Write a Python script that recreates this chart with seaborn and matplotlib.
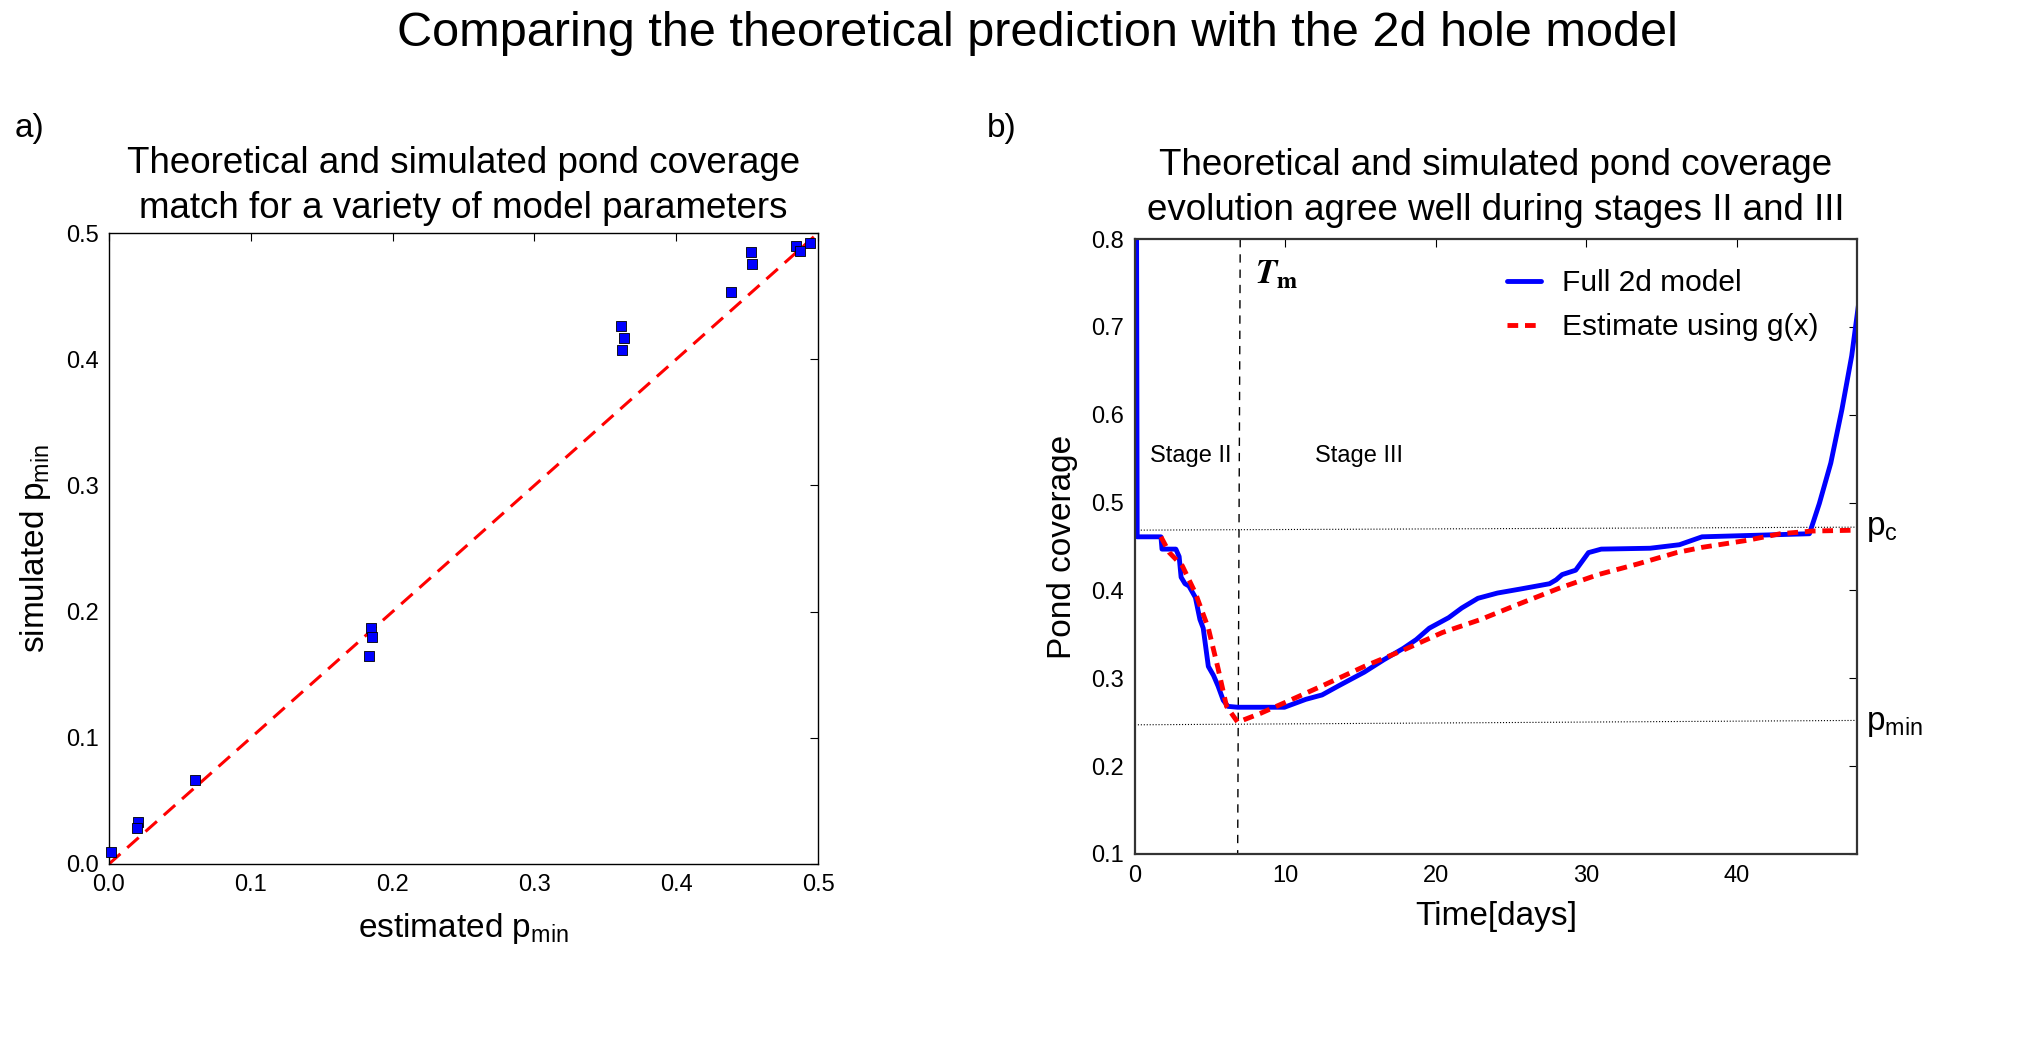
import numpy as np
import pandas as pd
import seaborn as sns
import matplotlib.pyplot as plt

# panel a) estimated vs simulated p_min
est_pmin = [0.0015, 0.0207, 0.0200, 0.0610, 0.1848, 0.1856, 0.1833, 0.3608, 0.3631, 0.3616,
            0.4387, 0.4528, 0.4536, 0.4847, 0.4873, 0.4946]
sim_pmin = [0.0092, 0.0329, 0.0287, 0.0669, 0.1870, 0.1800, 0.1650, 0.4264, 0.4168, 0.4073,
            0.4533, 0.4848, 0.4752, 0.4897, 0.4858, 0.4922]
ident_x = [0.0, 0.497]
ident_y = [0.0, 0.497]

# panel b) full 2d model
t_model = [0.10, 0.15, 1.73, 1.80, 2.72, 2.94, 3.07, 3.33, 3.59, 4.02, 4.32, 4.54, 4.88, 5.23,
           5.53, 5.87, 6.18, 6.83, 9.94, 11.36, 12.44, 13.5, 15.25, 16.54, 17.84, 18.7, 19.57,
           20.86, 21.73, 22.8, 24.1, 25.6, 27.56, 28.0, 28.4, 29.3, 30.15, 31.0, 34.25, 36.2,
           37.7, 44.84, 45.5, 46.26, 47.0, 47.65, 48.1]
p_model = [0.90, 0.461, 0.461, 0.447, 0.447, 0.4385, 0.415, 0.4076, 0.405, 0.392, 0.367, 0.357,
           0.3135, 0.303, 0.291, 0.275, 0.268, 0.267, 0.267, 0.276, 0.281, 0.291, 0.307, 0.321,
           0.334, 0.344, 0.357, 0.369, 0.380, 0.391, 0.397, 0.4015, 0.4076, 0.412, 0.418, 0.423,
           0.443, 0.447, 0.448, 0.452, 0.461, 0.4645, 0.499, 0.545, 0.606, 0.667, 0.725]

# estimate using g(x)
t_est = [1.73, 2.29, 3.15, 4.02, 4.88, 5.53, 6.09, 6.83, 8.34, 10.06, 12.66, 15.25, 17.84,
         20.43, 23.0, 25.6, 28.2, 30.8, 33.4, 36.0, 37.7, 40.7, 42.9, 45.05, 48.1]
p_est = [0.461, 0.443, 0.428, 0.397, 0.357, 0.311, 0.268, 0.250, 0.260, 0.273, 0.293, 0.3135,
         0.332, 0.352, 0.367, 0.385, 0.4025, 0.418, 0.430, 0.443, 0.449, 0.457, 0.4645, 0.4676,
         0.4686]

# reference lines
pc_x = [0.0, 48.0]
pc_y = [0.4686, 0.4720]
pmin_x = [0.0, 48.0]
pmin_y = [0.247, 0.252]
tm_x = [7.0, 6.83]
tm_y = [0.8, 0.1]

sns.set_style('white')
plt.rcParams['font.family'] = ['Liberation Sans', 'DejaVu Sans']
plt.rcParams['mathtext.default'] = 'regular'
for key in ['text.color', 'axes.labelcolor', 'xtick.color', 'ytick.color']:
    plt.rcParams[key] = 'black'

fig = plt.figure(figsize=(20.18, 10.46), dpi=100)
ax1 = fig.add_axes([0.0540, 0.1740, 0.3514, 0.6032])
ax2 = fig.add_axes([0.5624, 0.1836, 0.3578, 0.5879])

fig.text(0.514, 0.968, 'Comparing the theoretical prediction with the 2d hole model',
         ha='center', va='center', fontsize=35)
fig.text(0.007, 0.877, 'a)', ha='left', va='center', fontsize=24)
fig.text(0.489, 0.877, 'b)', ha='left', va='center', fontsize=24)

# --- panel a
df_a = pd.DataFrame({'est': est_pmin, 'sim': sim_pmin})
sns.lineplot(x=ident_x, y=ident_y, ax=ax1, color='red', lw=2.2, dashes=False)
ax1.lines[-1].set_dashes([5, 3])
sns.scatterplot(data=df_a, x='est', y='sim', ax=ax1, marker='s', s=55, color='#0000ff',
                edgecolor='black', linewidth=0.6, zorder=3, clip_on=False)
ax1.set_xlim(0, 0.5)
ax1.set_ylim(0, 0.5)
ax1.set_xticks(np.arange(0, 0.51, 0.1))
ax1.set_yticks(np.arange(0, 0.51, 0.1))
ax1.set_xticklabels(['0.0', '0.1', '0.2', '0.3', '0.4', '0.5'])
ax1.set_yticklabels(['0.0', '0.1', '0.2', '0.3', '0.4', '0.5'])
ax1.tick_params(direction='in', top=True, right=True, length=6, width=0.8, labelsize=17, pad=7)
ax1.set_xlabel('estimated p$_{min}$', fontsize=24, labelpad=11)
ax1.set_ylabel('simulated p$_{min}$', fontsize=24, labelpad=10)
ax1.set_title('Theoretical and simulated pond coverage\nmatch for a variety of model parameters',
              fontsize=26.5, pad=11, linespacing=1.35)
for sp in ax1.spines.values():
    sp.set_color('black')
    sp.set_linewidth(1.0)

# --- panel b
ax2.plot(pc_x, pc_y, color='black', lw=0.8, ls=':')
ax2.plot(pmin_x, pmin_y, color='black', lw=0.8, ls=':')
ax2.plot(tm_x, tm_y, color='black', lw=1.0, dashes=[6, 5])
sns.lineplot(x=t_model, y=p_model, ax=ax2, color='#0000ff', lw=3.5, sort=False,
             estimator=None, label='Full 2d model')
sns.lineplot(x=t_est, y=p_est, ax=ax2, color='red', lw=3.5, sort=False,
             estimator=None, label='Estimate using g(x)')
ax2.lines[-1].set_dashes([2.2, 1.4])
ax2.set_xlim(0, 48)
ax2.set_ylim(0.1, 0.8)
ax2.set_xticks([0, 10, 20, 30, 40])
ax2.set_yticks(np.arange(0.1, 0.81, 0.1))
ax2.set_yticklabels(['0.1', '0.2', '0.3', '0.4', '0.5', '0.6', '0.7', '0.8'])
ax2.tick_params(direction='in', top=True, right=True, length=6, width=0.8, labelsize=17, pad=8)
ax2.set_xlabel('Time[days]', fontsize=24, labelpad=10)
ax2.set_ylabel('Pond coverage', fontsize=24, labelpad=9)
ax2.set_title('Theoretical and simulated pond coverage\nevolution agree well during stages II and III',
              fontsize=26.5, pad=14, linespacing=1.35)
for sp in ax2.spines.values():
    sp.set_color('#333333')
    sp.set_linewidth(1.6)

ax2.text(3.7, 0.553, 'Stage II', ha='center', va='center', fontsize=17)
ax2.text(14.9, 0.553, 'Stage III', ha='center', va='center', fontsize=17)
ax2.text(8.0, 0.760, r'$\mathbfit{T}_\mathbf{m}$', ha='left', va='center', fontsize=25,
         math_fontfamily='stix')
ax2.text(48.6, 0.471, r'p$_c$', ha='left', va='center', fontsize=24)
ax2.text(48.6, 0.248, r'p$_{min}$', ha='left', va='center', fontsize=24)

leg = ax2.legend(loc='upper left', bbox_to_anchor=(0.478, 0.995), frameon=False, fontsize=21.5,
                 handlelength=1.15, handletextpad=0.7, labelspacing=0.55)

fig.savefig('out.png', dpi=100)
